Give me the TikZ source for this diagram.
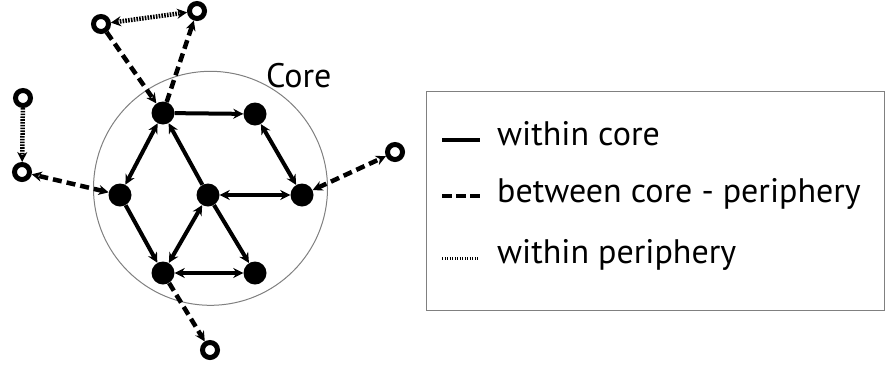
\documentclass[tikz,border=0pt]{standalone}
\usepackage{fontspec}
\setmainfont{PT Sans}
\usetikzlibrary{arrows.meta}
\begin{document}
\begin{tikzpicture}[x=1pt,y=-1pt,
  >={Stealth[length=10pt,width=10pt]},
  corenode/.style={circle,fill=black,inner sep=0pt,minimum size=23pt},
  perinode/.style={circle,draw=black,line width=5pt,fill=white,inner sep=0pt,minimum size=15pt},
  coreedge/.style={line width=4pt},
  cpedge/.style={line width=4.5pt,dash pattern=on 9pt off 5pt},
  ppedge/.style={line width=4.5pt,dash pattern=on 1.6pt off 1.2pt},
  lbl/.style={anchor=base west,inner sep=0pt,font=\fontsize{34}{40}\selectfont},
]
\useasboundingbox (0,0) rectangle (885,370);
% core circle
\node[circle,draw=gray,line width=1pt,minimum size=234pt,inner sep=0pt] (corecircle) at (210.5,188.3) {};
\node[lbl] (corelbl) at (266,87) {Core};
% core nodes
\node[corenode] (A) at (163,113) {};
\node[corenode] (B) at (255,114) {};
\node[corenode] (C) at (120,195) {};
\node[corenode] (D) at (208,195) {};
\node[corenode] (E) at (302,195) {};
\node[corenode] (F) at (163,273) {};
\node[corenode] (G) at (255,273) {};
% periphery nodes
\node[perinode] (P1) at (101,24) {};
\node[perinode] (P2) at (197,11) {};
\node[perinode] (P3) at (23,98) {};
\node[perinode] (P4) at (22,172) {};
\node[perinode] (P5) at (395,152) {};
\node[perinode] (P6) at (210,350) {};
% core edges
\draw[coreedge,->] (A) -- (B);
\draw[coreedge,<->] (B) -- (E);
\draw[coreedge,<->] (D) -- (E);
\draw[coreedge,<->] (A) -- (C);
\draw[coreedge,->] (D) -- (A);
\draw[coreedge,->] (C) -- (F);
\draw[coreedge,<->] (D) -- (F);
\draw[coreedge,->] (D) -- (G);
\draw[coreedge,<->] (F) -- (G);
% core-periphery edges
\draw[cpedge,->] (P1) -- (A);
\draw[cpedge,->] (A) -- (P2);
\draw[cpedge,<->] (C) -- (P4);
\draw[cpedge,<->] (E) -- (P5);
\draw[cpedge,->] (F) -- (P6);
% periphery edges
\draw[ppedge,<->] (P1) -- (P2);
\draw[ppedge,->] (P3) -- (P4);
% legend
\node[draw=gray,line width=1pt,minimum width=458pt,minimum height=219pt,inner sep=0pt] (legendbox) at (655,200.5) {};
\coordinate (l1a) at (442,140); \coordinate (l1b) at (480,140);
\coordinate (l2a) at (442,196); \coordinate (l2b) at (480,196);
\coordinate (l3a) at (442,258); \coordinate (l3b) at (478,258);
\draw[line width=4pt] (l1a) -- (l1b);
\draw[line width=4pt,dash pattern=on 10pt off 4pt] (l2a) -- (l2b);
\draw[line width=3pt,dash pattern=on 1pt off 1.5pt] (l3a) -- (l3b);
\node[lbl] (t1) at (497,145) {within core};
\node[lbl] (t2) at (497,202) {between core - periphery};
\node[lbl] (t3) at (497,263) {within periphery};
\end{tikzpicture}
\end{document}
